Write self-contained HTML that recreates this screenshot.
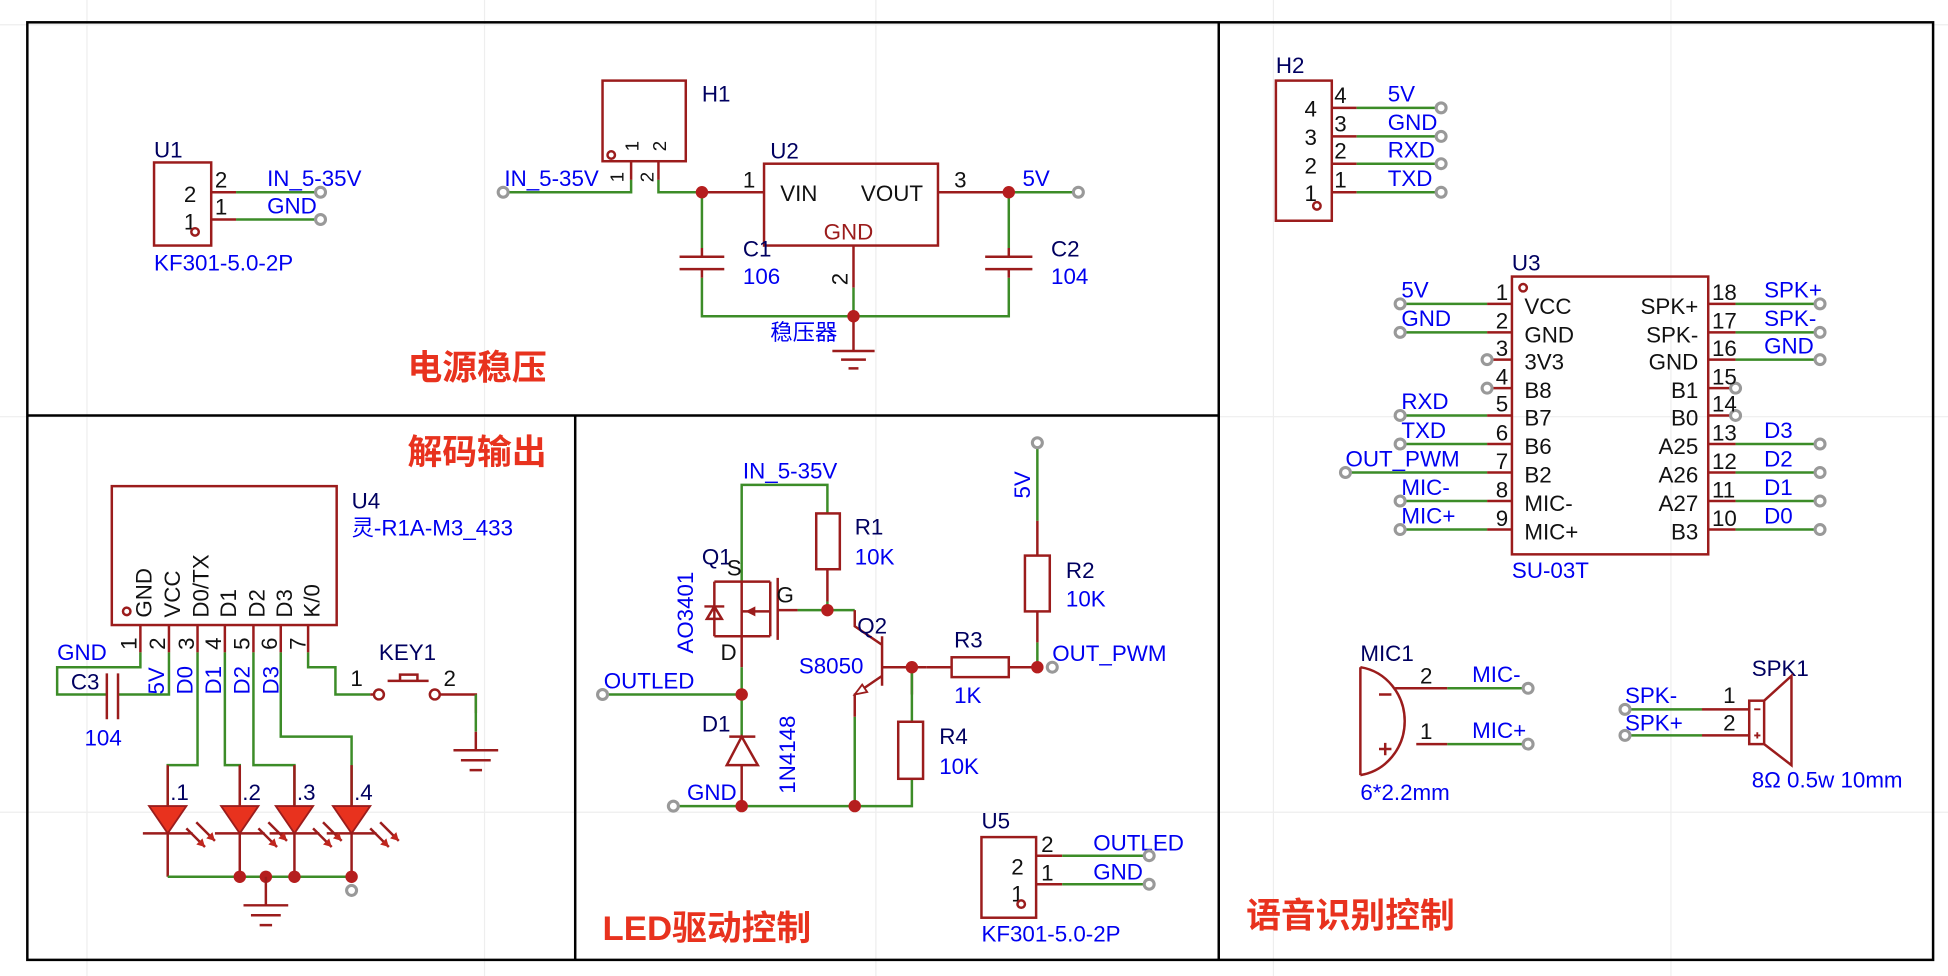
<!DOCTYPE html>
<html><head><meta charset="utf-8"><style>
html,body{margin:0;padding:0;background:#fff}
svg{display:block}
text{font-family:"Liberation Sans","Noto Sans CJK SC",sans-serif;font-size:18px}
.r{stroke:#9b1c1c;stroke-width:2;fill:none}
.g{stroke:#3c8c28;stroke-width:2;fill:none}
.b{fill:#0000f0}
.n{fill:#000060}
.k{fill:#111}
.t{fill:#e8321e;font-weight:bold;font-size:28px}
.j{fill:#b51e1e}
.d{fill:#fff;stroke:#999;stroke-width:2.5}
.f{stroke:#000;stroke-width:2;fill:none}
</style></head><body>
<svg width="1948" height="976" viewBox="0 0 1568 787" preserveAspectRatio="none">
<g stroke="#eee" stroke-width="1">
<line x1="0" y1="20" x2="1568" y2="20"/><line x1="0" y1="336" x2="1568" y2="336"/><line x1="0" y1="655" x2="1568" y2="655"/>
<line x1="70" y1="0" x2="70" y2="787"/><line x1="390" y1="0" x2="390" y2="787"/><line x1="705" y1="0" x2="705" y2="787"/><line x1="1025" y1="0" x2="1025" y2="787"/><line x1="1345" y1="0" x2="1345" y2="787"/>
</g>
<rect x="22" y="18" width="1534" height="756" class="f"/>
<line x1="22" y1="335" x2="981" y2="335" class="f"/>
<line x1="981" y1="18" x2="981" y2="774" class="f"/>
<line x1="463" y1="335" x2="463" y2="774" class="f"/>

<!-- U1 -->
<text x="124" y="127" class="n">U1</text>
<rect x="124" y="131" width="46" height="67" class="r"/>
<text x="148" y="163" class="k">2</text><text x="148" y="185" class="k">1</text>
<circle cx="157" cy="187" r="3" class="r"/>
<path d="M170 155H190M170 177H190" class="r"/><path d="M190 155H258M190 177H258" class="g"/>
<text x="173" y="151" class="k">2</text><text x="173" y="173" class="k">1</text>
<text x="215" y="150" class="b">IN_5-35V</text><text x="215" y="172" class="b">GND</text>
<circle cx="258" cy="155" r="4" class="d"/><circle cx="258" cy="177" r="4" class="d"/>
<text x="124" y="218" class="b">KF301-5.0-2P</text>

<!-- H1 / U2 -->
<rect x="485" y="65" width="67" height="65" class="r"/>
<text x="565" y="82" class="n">H1</text>
<circle cx="492" cy="125" r="3" class="r"/>
<text transform="translate(514,122) rotate(-90)" class="k" style="font-size:15px">1</text>
<text transform="translate(536,122) rotate(-90)" class="k" style="font-size:15px">2</text>
<text transform="translate(502,147) rotate(-90)" class="k" style="font-size:15px">1</text>
<text transform="translate(526,147) rotate(-90)" class="k" style="font-size:15px">2</text>
<path d="M508 130V145M530 130V145" class="r"/>
<path d="M405 155H508V145M530 145V155H565" class="g"/>
<circle cx="405" cy="155" r="4" class="d"/>
<text x="406" y="150" class="b">IN_5-35V</text>
<path d="M565 155H615" class="r"/>
<text x="598" y="151" class="k">1</text>
<rect x="615" y="132" width="140" height="66" class="r"/>
<text x="620" y="128" class="n">U2</text>
<text x="628" y="162" class="k">VIN</text><text x="693" y="162" class="k">VOUT</text>
<text x="663" y="193" style="fill:#9b1c1c">GND</text>
<path d="M755 155H812" class="r"/><text x="768" y="151" class="k">3</text>
<path d="M812 155H868" class="g"/><circle cx="868" cy="155" r="4" class="d"/>
<text x="823" y="150" class="b">5V</text>
<path d="M687 198V232" class="r"/><text transform="translate(682,230) rotate(-90)" class="k">2</text>
<path d="M687 232V255" class="g"/>
<path d="M565 155V200M812 155V200M565 224V255H812V224" class="g"/>
<path d="M565 200V207M547 207H583M547 217H583M565 217V224M812 200V207M793 207H831M793 217H831M812 217V224" class="r"/>
<text x="598" y="207" class="n">C1</text><text x="598" y="229" class="b">106</text>
<text x="846" y="207" class="n">C2</text><text x="846" y="229" class="b">104</text>
<path d="M687 255V283M670 283H704M677 290H697M683 297H691" class="r"/>
<circle cx="565" cy="155" r="5" class="j"/><circle cx="812" cy="155" r="5" class="j"/><circle cx="687" cy="255" r="5" class="j"/>
<text x="620" y="274" class="b">稳压器</text>
<text x="328" y="306" class="t">电源稳压</text>

<!-- Decode -->
<text x="328" y="374" class="t">解码输出</text>
<rect x="90" y="392" width="181" height="112" class="r"/>
<text x="283" y="410" class="n">U4</text><text x="283" y="432" class="b">灵-R1A-M3_433</text>
<circle cx="102" cy="493" r="3" class="r"/>
<g class="k">
<text transform="translate(122,498) rotate(-90)">GND</text>
<text transform="translate(145,498) rotate(-90)">VCC</text>
<text transform="translate(168,498) rotate(-90)">D0/TX</text>
<text transform="translate(190,498) rotate(-90)">D1</text>
<text transform="translate(213,498) rotate(-90)">D2</text>
<text transform="translate(235,498) rotate(-90)">D3</text>
<text transform="translate(257,498) rotate(-90)">K/0</text>
<text transform="translate(110,524) rotate(-90)">1</text>
<text transform="translate(133,524) rotate(-90)">2</text>
<text transform="translate(156,524) rotate(-90)">3</text>
<text transform="translate(178,524) rotate(-90)">4</text>
<text transform="translate(201,524) rotate(-90)">5</text>
<text transform="translate(223,524) rotate(-90)">6</text>
<text transform="translate(246,524) rotate(-90)">7</text>
</g>
<path d="M113 504V526M136 504V526M159 504V526M181 504V526M204 504V526M226 504V526M248 504V526" class="r"/>
<path d="M113 526V538H46V560H86M95 560H136V526M159 526V617H135V650M181 526V617H193V650M204 526V617H237V650M226 526V594H283V650M248 526V538H270V560H298" class="g"/>
<path d="M86 543V580M95 543V580" class="r"/>
<text x="46" y="532" class="b">GND</text><text x="57" y="556" class="n">C3</text><text x="68" y="601" class="b">104</text>
<g class="b">
<text transform="translate(132,560) rotate(-90)">5V</text>
<text transform="translate(155,560) rotate(-90)">D0</text>
<text transform="translate(178,560) rotate(-90)">D1</text>
<text transform="translate(201,560) rotate(-90)">D2</text>
<text transform="translate(224,560) rotate(-90)">D3</text>
</g>
<g class="r">
<path d="M135 617V650M193 617V650M237 617V650M283 617V650"/>
<path d="M115 672H155M173 672H213M217 672H257M263 672H303"/>
<path d="M135 672V707M193 672V707M237 672V707M283 672V707"/>
</g>
<path d="M135 707H283" class="g"/>
<g fill="#e8321e" stroke="#9b1c1c" stroke-width="1.5">
<path d="M120 650H150L135 672Z"/><path d="M178 650H208L193 672Z"/><path d="M222 650H252L237 672Z"/><path d="M268 650H298L283 672Z"/>
</g>
<g class="r" stroke-width="1.5">
<path d="M150 668L165 683M158 663L173 678M208 668L223 683M216 663L231 678M252 668L267 683M260 663L275 678M298 668L313 683M306 663L321 678"/>
</g>
<g fill="#c0261e">
<path d="M165 683l-7-2 5-5z M173 678l-7-2 5-5z M223 683l-7-2 5-5z M231 678l-7-2 5-5z M267 683l-7-2 5-5z M275 678l-7-2 5-5z M313 683l-7-2 5-5z M321 678l-7-2 5-5z"/>
</g>
<text x="137" y="645" class="n">.1</text><text x="195" y="645" class="n">.2</text><text x="239" y="645" class="n">.3</text><text x="285" y="645" class="n">.4</text>
<circle cx="193" cy="707" r="5" class="j"/><circle cx="214" cy="707" r="5" class="j"/><circle cx="237" cy="707" r="5" class="j"/><circle cx="283" cy="707" r="5" class="j"/>
<circle cx="283" cy="718" r="4" class="d"/>
<path d="M214 707V730M196 730H232M202 738H226M209 746H219" class="r"/>
<text x="305" y="532" class="n">KEY1</text>
<text x="282" y="553" class="k">1</text><text x="357" y="553" class="k">2</text>
<circle cx="305" cy="560" r="4" class="r"/><circle cx="350" cy="560" r="4" class="r"/>
<path d="M298 560H301M354 560H383V575M312 549H345M322 549V544H336V549" class="r"/>
<path d="M383 560V590" class="g"/>
<path d="M383 590V605M365 605H401M371 613H395M378 621H388" class="r"/>

<!-- LED drive -->
<text x="598" y="386" class="b">IN_5-35V</text>
<path d="M597 469V391H666V414" class="g"/>
<rect x="657" y="414" width="19" height="45" class="r"/>
<path d="M666 459V485" class="r"/><path d="M666 485V492M642 492H688" class="g"/>
<text x="688" y="431" class="n">R1</text><text x="688" y="455" class="b">10K</text>
<path d="M597 469H620M597 469V513H620M620 469V513M626 466V516M626 492H642M597 513V538M575 469V513M575 469H597M575 513H597M567 489H583M575 489L569 499H581Z" class="r"/>
<path d="M600 493l8-4v8z" fill="#9b1c1c"/>
<path d="M597 493H620" class="r"/>
<text x="565" y="455" class="n">Q1</text><text x="585" y="464" class="k">S</text><text x="625" y="486" class="k">G</text><text x="580" y="532" class="k">D</text>
<text transform="translate(558,527) rotate(-90)" class="b">AO3401</text>
<path d="M597 538V560M485 560H597M597 560V594M688 578V650M542 650H734V628" class="g"/>
<circle cx="485" cy="560" r="4" class="d"/><circle cx="542" cy="650" r="4" class="d"/>
<text x="486" y="555" class="b">OUTLED</text><text x="553" y="645" class="b">GND</text>
<path d="M587 594H608M597 594L585 617H610Z M597 617V650" class="r"/>
<text x="565" y="590" class="n">D1</text>
<text transform="translate(640,640) rotate(-90)" class="b">1N4148</text>
<path d="M688 492V505L710 520M710 513V553M710 545L688 560V578" class="r"/>
<path d="M688 560l10-2-4-6z" fill="#fff" stroke="#9b1c1c" stroke-width="1.5"/>
<text x="690" y="511" class="n">Q2</text><text x="643" y="543" class="b">S8050</text>
<path d="M710 538H734M734 538V560M734 538H746" class="r"/>
<path d="M734 538V582" class="g"/>
<rect x="723" y="582" width="20" height="46" class="r"/>
<text x="756" y="600" class="n">R4</text><text x="756" y="624" class="b">10K</text>
<path d="M746 538H766M812 538H835" class="r"/>
<rect x="766" y="530" width="46" height="16" class="r"/>
<text x="768" y="522" class="n">R3</text><text x="768" y="567" class="b">1K</text>
<path d="M835 357V420M835 518V538" class="g"/>
<path d="M835 420V448M835 493V518" class="r"/>
<rect x="825" y="448" width="20" height="45" class="r"/>
<circle cx="835" cy="357" r="4" class="d"/><circle cx="847" cy="538" r="4" class="d"/>
<text transform="translate(829,402) rotate(-90)" class="b">5V</text>
<text x="858" y="466" class="n">R2</text><text x="858" y="489" class="b">10K</text>
<text x="847" y="533" class="b">OUT_PWM</text>
<circle cx="597" cy="560" r="5" class="j"/><circle cx="666" cy="492" r="5" class="j"/><circle cx="734" cy="538" r="5" class="j"/><circle cx="835" cy="538" r="5" class="j"/><circle cx="597" cy="650" r="5" class="j"/><circle cx="688" cy="650" r="5" class="j"/>

<text x="790" y="668" class="n">U5</text>
<rect x="790" y="675" width="44" height="65" class="r"/>
<text x="814" y="705" class="k">2</text><text x="814" y="727" class="k">1</text>
<circle cx="822" cy="729" r="3" class="r"/>
<path d="M834 690H855M834 713H855" class="r"/><path d="M855 690H925M855 713H925" class="g"/>
<text x="838" y="687" class="k">2</text><text x="838" y="710" class="k">1</text>
<text x="880" y="686" class="b">OUTLED</text><text x="880" y="709" class="b">GND</text>
<circle cx="925" cy="690" r="4" class="d"/><circle cx="925" cy="713" r="4" class="d"/>
<text x="790" y="759" class="b">KF301-5.0-2P</text>
<text x="485" y="758" class="t">LED驱动控制</text>

<!-- Voice -->
<text x="1027" y="59" class="n">H2</text>
<rect x="1027" y="65" width="45" height="113" class="r"/>
<text x="1050" y="94" class="k">4</text><text x="1050" y="117" class="k">3</text><text x="1050" y="140" class="k">2</text><text x="1050" y="162" class="k">1</text>
<circle cx="1060" cy="166" r="3" class="r"/>
<path d="M1072 87H1092M1072 110H1092M1072 132H1092M1072 155H1092" class="r"/>
<path d="M1092 87H1160M1092 110H1160M1092 132H1160M1092 155H1160" class="g"/>
<text x="1074" y="83" class="k">4</text><text x="1074" y="106" class="k">3</text><text x="1074" y="128" class="k">2</text><text x="1074" y="151" class="k">1</text>
<text x="1117" y="82" class="b">5V</text><text x="1117" y="105" class="b">GND</text><text x="1117" y="127" class="b">RXD</text><text x="1117" y="150" class="b">TXD</text>
<circle cx="1160" cy="87" r="4" class="d"/><circle cx="1160" cy="110" r="4" class="d"/><circle cx="1160" cy="132" r="4" class="d"/><circle cx="1160" cy="155" r="4" class="d"/>

<text x="1217" y="218" class="n">U3</text>
<rect x="1217" y="223" width="158" height="224" class="r"/>
<circle cx="1226" cy="232" r="3" class="r"/>
<path d="M1197 245H1217M1197 268H1217M1197 290H1217M1197 313H1217M1197 335H1217M1197 358H1217M1197 381H1217M1197 404H1217M1197 427H1217" class="r"/>
<path d="M1127 245H1197M1127 268H1197M1127 335H1197M1127 358H1197M1083 381H1197M1127 404H1197M1127 427H1197" class="g"/>
<path d="M1375 245H1397M1375 268H1397M1375 290H1397M1375 313H1397M1375 335H1397M1375 358H1397M1375 381H1397M1375 404H1397M1375 427H1397" class="r"/>
<path d="M1397 245H1465M1397 268H1465M1397 290H1465M1397 358H1465M1397 381H1465M1397 404H1465M1397 427H1465" class="g"/>
<g class="d">
<circle cx="1127" cy="245" r="4"/><circle cx="1127" cy="268" r="4"/><circle cx="1197" cy="290" r="4"/><circle cx="1197" cy="313" r="4"/><circle cx="1127" cy="335" r="4"/><circle cx="1127" cy="358" r="4"/><circle cx="1083" cy="381" r="4"/><circle cx="1127" cy="404" r="4"/><circle cx="1127" cy="427" r="4"/>
<circle cx="1465" cy="245" r="4"/><circle cx="1465" cy="268" r="4"/><circle cx="1465" cy="290" r="4"/><circle cx="1397" cy="313" r="4"/><circle cx="1397" cy="335" r="4"/><circle cx="1465" cy="358" r="4"/><circle cx="1465" cy="381" r="4"/><circle cx="1465" cy="404" r="4"/><circle cx="1465" cy="427" r="4"/>
</g>
<g class="k">
<text x="1204" y="242">1</text><text x="1204" y="265">2</text><text x="1204" y="287">3</text><text x="1204" y="310">4</text><text x="1204" y="332">5</text><text x="1204" y="355">6</text><text x="1204" y="378">7</text><text x="1204" y="401">8</text><text x="1204" y="424">9</text>
<text x="1227" y="253">VCC</text><text x="1227" y="276">GND</text><text x="1227" y="298">3V3</text><text x="1227" y="321">B8</text><text x="1227" y="343">B7</text><text x="1227" y="366">B6</text><text x="1227" y="389">B2</text><text x="1227" y="412">MIC-</text><text x="1227" y="435">MIC+</text>
<g text-anchor="end">
<text x="1367" y="253">SPK+</text><text x="1367" y="276">SPK-</text><text x="1367" y="298">GND</text><text x="1367" y="321">B1</text><text x="1367" y="343">B0</text><text x="1367" y="366">A25</text><text x="1367" y="389">A26</text><text x="1367" y="412">A27</text><text x="1367" y="435">B3</text>
</g>
<text x="1378" y="242">18</text><text x="1378" y="265">17</text><text x="1378" y="287">16</text><text x="1378" y="310">15</text><text x="1378" y="332">14</text><text x="1378" y="355">13</text><text x="1378" y="378">12</text><text x="1378" y="401">11</text><text x="1378" y="424">10</text>
</g>
<g class="b">
<text x="1128" y="240">5V</text><text x="1128" y="263">GND</text><text x="1128" y="330">RXD</text><text x="1128" y="353">TXD</text><text x="1083" y="376">OUT_PWM</text><text x="1128" y="399">MIC-</text><text x="1128" y="422">MIC+</text>
<text x="1420" y="240">SPK+</text><text x="1420" y="263">SPK-</text><text x="1420" y="285">GND</text><text x="1420" y="353">D3</text><text x="1420" y="376">D2</text><text x="1420" y="399">D1</text><text x="1420" y="422">D0</text>
</g>
<text x="1217" y="466" class="b">SU-03T</text>

<text x="1095" y="533" class="n">MIC1</text>
<path d="M1095 538V625M1095 538A42 44 0 0 1 1095 625M1110 560H1120M1110 604H1120M1115 599V609M1123 555H1165M1140 600H1165" class="r"/>
<path d="M1165 555H1230M1165 600H1230" class="g"/>
<circle cx="1230" cy="555" r="4" class="d"/><circle cx="1230" cy="600" r="4" class="d"/>
<text x="1143" y="551" class="k">2</text><text x="1143" y="596" class="k">1</text>
<text x="1185" y="550" class="b">MIC-</text><text x="1185" y="595" class="b">MIC+</text>
<text x="1095" y="645" class="b">6*2.2mm</text>

<text x="1410" y="545" class="n">SPK1</text>
<path d="M1308 572H1370M1308 593H1370" class="g"/>
<path d="M1370 572H1408M1370 593H1408" class="r"/>
<rect x="1408" y="565" width="12" height="35" class="r"/>
<path d="M1420 565L1442 545V617L1420 600" class="r"/>
<path d="M1412 572h5M1412 593h5M1414.5 590.5v5" stroke="#9b1c1c" stroke-width="1.5"/>
<circle cx="1308" cy="572" r="4" class="d"/><circle cx="1308" cy="593" r="4" class="d"/>
<text x="1387" y="567" class="k">1</text><text x="1387" y="589" class="k">2</text>
<text x="1308" y="567" class="b">SPK-</text><text x="1308" y="589" class="b">SPK+</text>
<text x="1410" y="635" class="b">8Ω 0.5w 10mm</text>
<text x="1003" y="748" class="t">语音识别控制</text>
</svg>
</body></html>
